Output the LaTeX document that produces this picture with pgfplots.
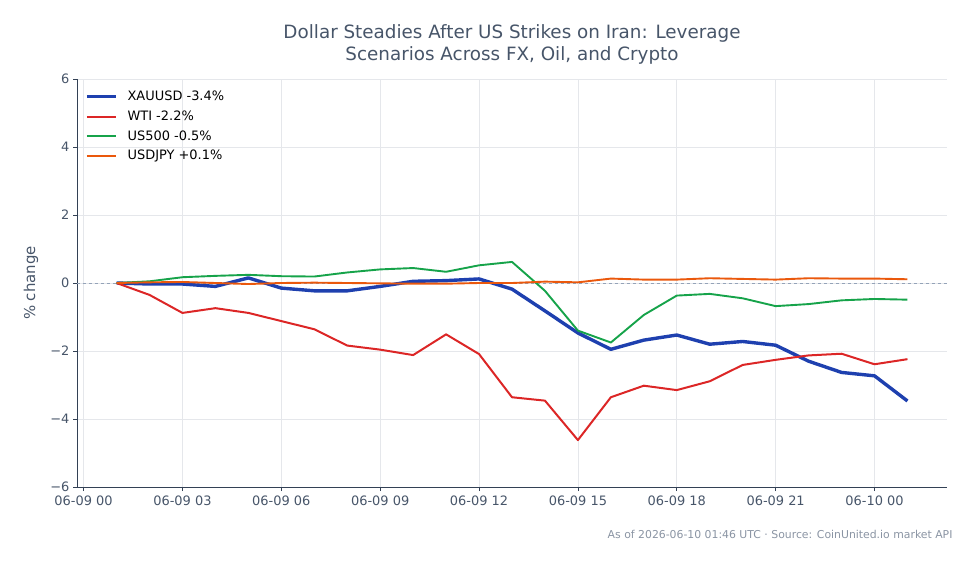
\documentclass[border=0pt]{standalone}
\usepackage{pgfplots}
\pgfplotsset{compat=1.18}
\usepackage{fontspec}
\setmainfont{DejaVu Sans}

\definecolor{cxau}{HTML}{1E40AF}
\definecolor{cwti}{HTML}{DC2626}
\definecolor{cspx}{HTML}{16A34A}
\definecolor{cjpy}{HTML}{EA580C}
\definecolor{ctext}{HTML}{475569}
\definecolor{cspine}{HTML}{334155}
\definecolor{cgrid}{HTML}{E5E7EB}
\definecolor{czero}{HTML}{94A3B8}
\definecolor{cfoot}{HTML}{8A94A3}

% hourly % change since 06-09 00:00 UTC (x = hours)
\pgfplotstableread{
h    xau    wti    spx    jpy
1    0.00   0.00   0.00   0.00
2   -0.03  -0.35   0.05   0.02
3   -0.03  -0.88   0.17   0.03
4   -0.10  -0.74   0.21   0.00
5    0.15  -0.88   0.24  -0.03
6   -0.15  -1.12   0.20   0.00
7   -0.23  -1.36   0.19   0.01
8   -0.23  -1.84   0.31   0.00
9   -0.10  -1.96   0.40  -0.01
10   0.05  -2.12   0.44  -0.02
11   0.07  -1.51   0.33  -0.02
12   0.12  -2.09   0.52   0.00
13  -0.18  -3.36   0.62   0.00
14  -0.82  -3.46  -0.23   0.04
15  -1.47  -4.62  -1.40   0.02
16  -1.95  -3.36  -1.75   0.13
17  -1.68  -3.02  -0.94   0.10
18  -1.53  -3.15  -0.37   0.10
19  -1.80  -2.89  -0.32   0.14
20  -1.72  -2.41  -0.45   0.12
21  -1.83  -2.26  -0.68   0.10
22  -2.30  -2.13  -0.62   0.14
23  -2.63  -2.08  -0.51   0.13
24  -2.73  -2.39  -0.47   0.13
25  -3.47  -2.24  -0.49   0.11
}\moves

\begin{document}
\begin{tikzpicture}
\path[use as bounding box] (0,0) rectangle (979bp,-564bp);

\begin{axis}[
  at={(77bp,-487bp)}, anchor=south west,
  scale only axis, width=870bp, height=408bp,
  xmin=-0.2, xmax=26.2, ymin=-6, ymax=6,
  axis x line*=bottom, axis y line*=left,
  axis line style={cspine, line width=0.8bp, -},
  xtick={0,3,...,24},
  xticklabels={06-09 00,06-09 03,06-09 06,06-09 09,06-09 12,06-09 15,06-09 18,06-09 21,06-10 00},
  ytick={-6,-4,...,6},
  yticklabels={−6,−4,−2,0,2,4,6},
  tick align=outside, major tick length=4bp,
  tick style={cspine, line width=0.8bp},
  ticklabel style={font=\fontsize{13}{15}\selectfont, text=ctext},
  xticklabel style={yshift=-1bp},
  grid=major, major grid style={cgrid, line width=0.6bp},
  legend cell align=left,
  legend style={at={(rel axis cs:0.0,0.989)}, anchor=north west, draw=none, fill=none,
    font=\fontsize{13}{15}\selectfont, inner xsep=8bp},
  legend image code/.code={\draw[#1] (0bp,0bp) -- (29bp,0bp);\path (0bp,-8.85bp) (37bp,8.85bp);},
]
\addplot[forget plot, czero, dashed, line width=0.8bp] coordinates {(-0.2,0) (26.2,0)};
\addplot[cxau, line width=3.4bp, line join=round] table[x=h, y=xau] {\moves};
\addlegendentry{XAUUSD -3.4\%}
\addplot[cwti, line width=2bp, line join=round] table[x=h, y=wti] {\moves};
\addlegendentry{WTI -2.2\%}
\addplot[cspx, line width=1.9bp, line join=round] table[x=h, y=spx] {\moves};
\addlegendentry{US500 -0.5\%}
\addplot[cjpy, line width=1.9bp, line join=round] table[x=h, y=jpy] {\moves};
\addlegendentry{USDJPY +0.1\%}
\end{axis}

\node[text=ctext, font=\fontsize{18.4}{21.5}\selectfont, align=center] at (512bp,-44.5bp)
  {Dollar Steadies After US Strikes on Iran: Leverage\\Scenarios Across FX, Oil, and Crypto};
\node[text=ctext, font=\fontsize{15}{18}\selectfont, rotate=90] at (31bp,-283bp) {\% change};
\node[text=cfoot, font=\fontsize{10.9}{13}\selectfont, anchor=base east] at (956bp,-538bp)
  {As of 2026-06-10 01:46 UTC · Source: CoinUnited.io market API};
\end{tikzpicture}
\end{document}
